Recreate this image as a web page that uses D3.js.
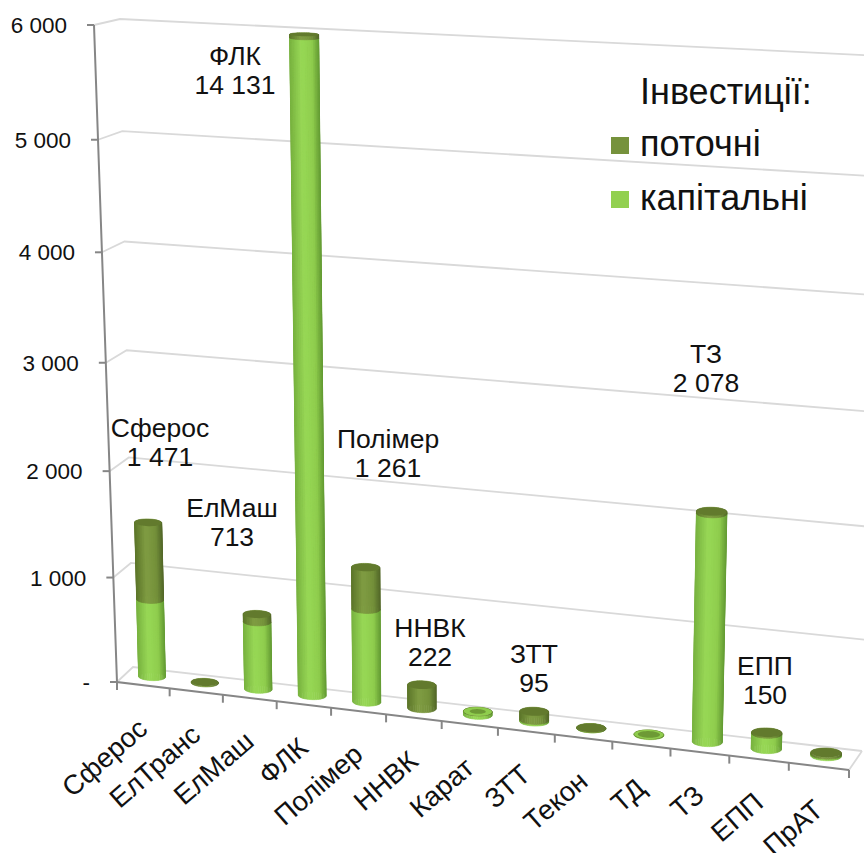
<!DOCTYPE html>
<html lang="uk">
<head>
<meta charset="UTF-8">
<title>Інвестиції</title>
<script src="https://d3js.org/d3.v7.min.js"></script>
<style>
    body { margin: 0; background: #fff; }
    svg { display: block; }
    text { font-family: "Liberation Sans", Arial, sans-serif; fill: #111; }
</style>
</head>
<body>
<svg width="864" height="853"></svg>
<script>
// data
const categories = ["Сферос", "ЕлТранс", "ЕлМаш", "ФЛК", "Полімер", "ННВК", "Карат", "ЗТТ", "Текон", "ТД", "ТЗ", "ЕПП", "ПрАТ"];
const capital = [740, 0, 640, 5945, 870, 0, 32, 15, 1, 6, 2060, 140, 14];
const current = [731, 8, 73, 30, 391, 222, 2, 80, 4, 1, 18, 10, 16];
const yTicks = [0, 1000, 2000, 3000, 4000, 5000, 6000];
const labelNames = ["Сферос", "ЕлМаш", "ФЛК", "Полімер", "ННВК", "ЗТТ", "ТЗ", "ЕПП"];
const labelTotals = ["1 471", "713", "14 131", "1 261", "222", "95", "2 078", "150"];
const legendNames = ["поточні", "капітальні"];

// layout of the free-standing labels (centre x, first baseline)
const labelSpots = [[160, 437], [232, 517], [235, 65], [388, 448], [430, 637], [534, 663], [706, 363], [765, 675]];

const svg = d3.select("svg");

const uScale = d3.scaleBand().domain(categories).range([0, 1]);
const vScale = d3.scaleLinear().domain([0, 6000]).range([0, 1]);

// unit square -> quad, used for the front and the back plane of the 3D box
function quadMap(p0, p1, p2, p3) {
    const dx1 = p1[0] - p2[0], dx2 = p3[0] - p2[0], sx = p0[0] - p1[0] + p2[0] - p3[0];
    const dy1 = p1[1] - p2[1], dy2 = p3[1] - p2[1], sy = p0[1] - p1[1] + p2[1] - p3[1];
    const den = dx1 * dy2 - dx2 * dy1;
    const g = (sx * dy2 - dx2 * sy) / den, h = (dx1 * sy - sx * dy1) / den;
    const a = p1[0] - p0[0] + g * p1[0], b = p3[0] - p0[0] + h * p3[0];
    const d = p1[1] - p0[1] + g * p1[1], e = p3[1] - p0[1] + h * p3[1];
    return (u, v) => {
        const w = g * u + h * v + 1;
        return [(a * u + b * v + p0[0]) / w, (d * u + e * v + p0[1]) / w];
    };
}
const front = quadMap([117, 682], [849, 770], [870, 66], [94, 25]);
const back = quadMap([133, 667], [862, 751], [884, 56], [120, 19]);

// depth 0 = front, 1 = back
function project(u, value, depth) {
    const f = front(u, vScale(value)), b = back(u, vScale(value));
    return [f[0] + (b[0] - f[0]) * depth, f[1] + (b[1] - f[1]) * depth];
}
const line = d3.line();

// walls and floor
const grid = svg.append("g").attr("fill", "none").attr("stroke", "#d9d9d9").attr("stroke-width", 1.8);
grid.selectAll("path").data(yTicks).join("path")
    .attr("d", v => line([project(0, v, 0), project(0, v, 1), project(1, v, 1)]));
grid.append("path").attr("d", line([project(1, 0, 1), project(1, 0, 0)]));

const axis = svg.append("g").attr("fill", "none").attr("stroke", "#868686").attr("stroke-width", 2);
axis.append("path").attr("d", line([project(0, 6000, 0), project(0, 0, 0), project(1, 0, 0)]));
axis.selectAll(".ytick").data(yTicks).join("path").attr("class", "ytick")
    .attr("d", v => {
        const p = project(0, v, 0);
        return line([[p[0] - 7, p[1]], p]);
    });
const bandEdges = categories.map(c => uScale(c)).concat([1]);
axis.selectAll(".xtick").data(bandEdges).join("path").attr("class", "xtick")
    .attr("d", u => {
        const p = project(u, 0, 0);
        return line([p, [p[0], p[1] + 8]]);
    });

const fmt = d3.formatLocale({ decimal: ",", thousands: " ", grouping: [3], currency: ["", ""] }).format(",");
svg.append("g").selectAll("text").data(yTicks).join("text")
    .attr("x", v => project(0, v, 0)[0] - 27)
    .attr("y", v => project(0, v, 0)[1] + 8)
    .attr("text-anchor", "end")
    .attr("font-size", 22.5)
    .text(v => v === 0 ? "-" : fmt(v));

svg.append("g").selectAll("text").data(categories).join("text")
    .attr("transform", c => {
        const p = project(uScale(c) + uScale.bandwidth() / 2, 0, 0);
        return `translate(${p[0] + 6},${p[1] + 46}) rotate(-41)`;
    })
    .attr("text-anchor", "end")
    .attr("font-size", 27.5)
    .text(c => c);

// cylinders
const greenShade = d3.scaleLinear().domain([-1, -0.2, 0.5, 1]).range(["#78b23f", "#98d856", "#8fcd4d", "#639a33"]);
const oliveShade = d3.scaleLinear().domain([-1, -0.2, 0.5, 1]).range(["#5c7529", "#7f9c42", "#74903a", "#526728"]);
const radiusU = 0.0195, radiusDepth = 0.25, columnDepth = 0.55, steps = 40;
const marks = svg.append("g");

function ring(c, value) {
    const u = uScale(c) + uScale.bandwidth() / 2;
    const o = project(u, value, columnDepth);
    const e = project(u + radiusU, value, columnDepth);
    const ry = (project(u, value, columnDepth - radiusDepth)[1] - project(u, value, columnDepth + radiusDepth)[1]) / 2;
    return d3.range(steps).map(i => {
        const t = i / steps * 2 * Math.PI;
        // the ellipses sit almost level in the picture, only a little of the floor slope
        return [o[0] + (e[0] - o[0]) * Math.cos(t), o[1] + (e[1] - o[1]) * 0.25 * Math.cos(t) + ry * Math.sin(t)];
    });
}

function drawSide(c, v0, v1, shade) {
    const low = ring(c, v0), high = ring(c, v1);
    const strips = d3.range(steps)
        .map(i => ({ i, t: (i + 0.5) / steps * 2 * Math.PI }))
        .sort((a, b) => Math.sin(a.t) - Math.sin(b.t));
    marks.append("g").selectAll("path").data(strips).join("path")
        .attr("d", s => {
            const n = (s.i + 1) % steps;
            return line([low[s.i], low[n], high[n], high[s.i]]) + "Z";
        })
        .attr("fill", s => shade(Math.cos(s.t)))
        .attr("stroke", s => shade(Math.cos(s.t)))
        .attr("stroke-width", 0.6);
}

categories.forEach((c, i) => {
    const total = capital[i] + current[i];
    if (capital[i] > 0) drawSide(c, 0, capital[i], greenShade);
    drawSide(c, capital[i], total, oliveShade);
    // very thin current layer only shows as a speck in the middle of the green top
    const speck = current[i] < capital[i] && current[i] <= 2;
    const top = ring(c, total);
    marks.append("path").attr("d", line(top) + "Z").attr("fill", speck ? "#8fcd4d" : "#627a2d");
    if (speck) {
        const mid = [d3.mean(top, p => p[0]), d3.mean(top, p => p[1])];
        const k = 0.45 + 1.8 * current[i] / capital[i];
        marks.append("path")
            .attr("d", line(top.map(p => [mid[0] + (p[0] - mid[0]) * k, mid[1] + (p[1] - mid[1]) * k])) + "Z")
            .attr("fill", "#6d9a35");
    }
});

// free-standing labels
const labels = svg.append("g").attr("text-anchor", "middle").attr("font-size", 26.5);
labelNames.forEach((name, i) => {
    const [x, y] = labelSpots[i];
    labels.append("text").attr("x", x).attr("y", y).text(name);
    labels.append("text").attr("x", x).attr("y", y + 29).text(labelTotals[i]);
});

// legend
const legend = svg.append("g").attr("font-size", 36);
legend.append("text").attr("x", 640).attr("y", 104).text("Інвестиції:");
const legendColor = d3.scaleOrdinal().domain(legendNames).range(["#76923c", "#92d050"]);
const legendY = d3.scalePoint().domain(legendNames).range([156, 210]);
legend.selectAll(".sw").data(legendNames).join("rect").attr("class", "sw")
    .attr("x", 611).attr("y", d => legendY(d) - 19).attr("width", 18).attr("height", 17)
    .attr("fill", d => legendColor(d));
legend.selectAll(".nm").data(legendNames).join("text").attr("class", "nm")
    .attr("x", 640).attr("y", d => legendY(d)).text(d => d);
</script>
</body>
</html>
